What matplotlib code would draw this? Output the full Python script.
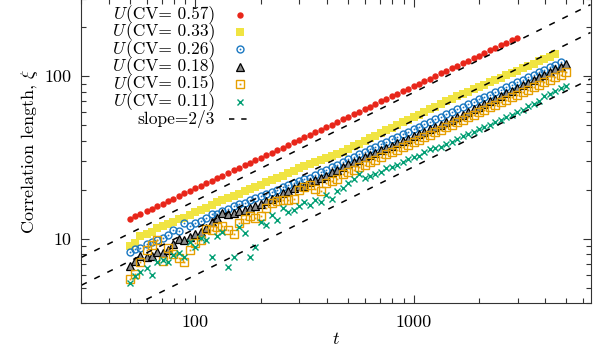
import matplotlib
matplotlib.use('Agg')
import matplotlib.pyplot as plt
from matplotlib.lines import Line2D
from matplotlib.ticker import NullFormatter

# simulation times shared by all runs
t = [50, 53, 56, 60, 63, 67, 71, 75, 79, 84, 89, 94, 100, 106, 112, 119, 126, 133, 141, 150,
     158, 168, 178, 188, 200, 211, 224, 237, 251, 266, 282, 299, 316, 335, 355, 376, 398, 422, 447, 473,
     501, 531, 562, 596, 631, 668, 708, 750, 794, 841, 891, 944, 1000, 1059, 1122, 1189, 1259, 1334, 1413, 1496,
     1585, 1679, 1778, 1884, 1995, 2113, 2239, 2371, 2512, 2661, 2818, 2985, 3162, 3350, 3548, 3758, 3981, 4217, 4467, 4732,
     5012]

# correlation length for each CV value
xi_057 = [13.2, 13.7, 14.2, 14.7, 15.3, 15.8, 16.4, 17.0, 17.6, 18.3,
          19.0, 19.7, 20.4, 21.2, 21.9, 22.7, 23.6, 24.4, 25.4, 26.3,
          27.3, 28.3, 29.3, 30.4, 31.5, 32.7, 33.9, 35.1, 36.4, 37.8,
          39.1, 40.6, 42.1, 43.6, 45.3, 46.9, 48.6, 50.4, 52.3, 54.2,
          56.2, 58.3, 60.5, 62.7, 65.0, 67.4, 69.9, 72.5, 75.1, 77.9,
          80.8, 83.7, 86.8, 90.0, 93.4, 96.8, 100.4, 104.1, 107.9, 111.9,
          116.0, 120.3, 124.7, 129.3, 134.1, 139.0, 144.2, 149.5, 155.0, 160.7,
          166.6, 172.8]
xi_033 = [9.06, 9.45, 10.43, 10.73, 11.04, 11.69, 12.02, 12.36, 12.72, 13.28,
          13.47, 14.05, 14.66, 15.08, 15.51, 16.18, 16.88, 17.37, 17.87, 18.38,
          18.91, 19.73, 20.30, 20.88, 21.48, 22.41, 23.05, 23.71, 24.39, 25.45,
          26.19, 27.32, 28.11, 28.92, 29.75, 30.60, 31.48, 32.38, 33.31, 34.27,
          35.75, 37.04, 38.37, 40.03, 41.47, 42.97, 44.83, 46.44, 48.11, 50.20,
          52.01, 53.88, 55.82, 57.83, 60.34, 62.52, 64.77, 67.58, 70.03, 72.55,
          75.16, 77.86, 80.10, 82.99, 85.97, 88.42, 91.61, 94.90, 97.62, 101.2,
          104.8, 107.8, 111.6, 115.7, 119.0, 123.4, 127.8, 131.5, 136.2]
xi_026 = [8.32, 8.68, 8.81, 9.32, 9.59, 9.86, 10.14, 10.58, 11.36, 11.20,
          12.54, 12.02, 12.54, 12.91, 13.47, 14.25, 14.25, 14.87, 15.29, 15.95,
          16.41, 16.64, 17.37, 17.87, 18.38, 18.91, 19.45, 20.01, 20.88, 21.48,
          22.10, 22.73, 23.38, 23.71, 24.74, 25.81, 26.56, 27.71, 28.51, 29.75,
          30.82, 31.93, 33.07, 34.27, 35.50, 36.78, 38.10, 39.47, 40.89, 42.36,
          43.89, 45.47, 47.10, 48.80, 50.56, 52.38, 54.26, 56.22, 58.24, 60.34,
          62.52, 64.77, 67.10, 69.52, 72.04, 74.11, 76.77, 79.54, 82.40, 85.37,
          88.42, 91.61, 94.90, 98.32, 101.9, 105.6, 109.3, 113.2, 117.4, 121.6]
xi_018 = [6.82, 7.33, 7.86, 7.75, 7.86, 8.32, 8.20, 8.56, 9.32, 10.00,
          9.86, 10.29, 10.73, 11.04, 11.69, 12.72, 13.47, 14.45, 14.25, 14.45,
          14.87, 15.08, 15.51, 15.95, 16.41, 17.13, 17.62, 18.12, 19.18, 19.73,
          20.58, 21.18, 21.18, 22.41, 23.05, 23.71, 24.39, 25.82, 26.56, 27.71,
          28.71, 29.75, 30.60, 31.70, 32.84, 33.78, 35.00, 36.26, 37.30, 38.64,
          40.03, 41.18, 42.66, 44.20, 45.47, 47.10, 48.80, 50.20, 52.01, 53.88,
          55.82, 57.83, 60.34, 62.52, 64.77, 67.58, 70.03, 72.55, 75.69, 78.42,
          81.24, 84.76, 87.80, 90.96, 94.90, 98.32, 101.9, 106.2, 110.1, 114.1,
          118.2]
xi_015 = [5.68, 6.10, 7.22, 8.56, 9.19, 9.86, 7.33, 8.81, 8.08, 7.64,
          7.22, 8.56, 9.45, 9.86, 11.52, 11.36, 11.85, 12.02, 11.36, 10.73,
          12.54, 13.28, 13.85, 13.47, 13.85, 15.51, 16.64, 17.13, 17.37, 17.37,
          17.62, 20.01, 20.88, 21.48, 20.30, 19.73, 22.10, 22.73, 23.38, 25.09,
          25.82, 26.56, 27.71, 28.51, 29.75, 30.60, 31.93, 33.31, 34.27, 35.25,
          36.78, 37.83, 39.47, 40.60, 42.36, 43.58, 45.47, 46.77, 48.80, 50.20,
          52.38, 53.88, 56.22, 57.83, 60.34, 62.08, 64.77, 66.63, 69.52, 71.53,
          74.63, 76.77, 80.10, 82.40, 85.97, 88.42, 92.25, 94.90, 99.06, 101.9,
          106.2]
xi_011 = [5.37, 5.93, 6.27, 6.64, 6.01, 7.22, 7.43, 7.22, 7.97, 8.20,
          7.75, 9.59, 8.93, 10.14, 9.86, 7.75, 10.43, 11.04, 6.73, 7.75,
          11.85, 10.88, 7.75, 8.93, 12.72, 12.19, 14.05, 13.09, 15.51, 14.66,
          15.08, 15.95, 16.88, 16.18, 17.37, 16.88, 18.64, 17.62, 19.73, 20.58,
          22.10, 23.38, 25.09, 23.71, 24.39, 25.09, 25.82, 27.32, 27.71, 28.51,
          29.75, 31.04, 31.93, 32.38, 34.27, 35.75, 36.26, 36.78, 38.37, 39.47,
          41.18, 42.97, 44.20, 45.47, 47.44, 48.80, 50.20, 52.38, 53.88, 56.22,
          57.83, 60.34, 62.08, 65.69, 67.58, 70.53, 75.69, 77.86, 81.24, 84.76,
          87.18]

cv_labels = ['0.57', '0.33', '0.26', '0.18', '0.15', '0.11']

# prefactors of the xi = A t^(2/3) guide lines
guide_A = [0.794, 0.535, 0.277]
guide_t = [30, 6470]

plt.rcParams['font.family'] = 'serif'
plt.rcParams['font.serif'] = ['cmr10']
plt.rcParams['mathtext.fontset'] = 'cm'
plt.rcParams['axes.formatter.use_mathtext'] = True
plt.rcParams['font.size'] = 13

RED = '#e8261a'
YEL = '#f0e442'
BLU = '#1a78c2'
ORG = '#e69f00'
GRN = '#009e73'

W, H = 596, 351
fig = plt.figure(figsize=(W / 100, H / 100), dpi=100)
ax = fig.add_axes([81.3 / W, 47.7 / H, 509.2 / W, 304.6 / H])

# marker styles, one list per series (open markers get gnuplot's centre dot)
styles = [
    [dict(marker='o', ms=4.6, mfc=RED, mec=RED, mew=0)],
    [dict(marker='s', ms=5.2, mfc=YEL, mec=YEL, mew=0)],
    [dict(marker='o', ms=5.0, mfc='none', mec=BLU, mew=1.0),
     dict(marker='o', ms=1.3, mfc=BLU, mec=BLU, mew=0)],
    [dict(marker='^', ms=5.4, mfc='#8c8c8c', mec='black', mew=0.9)],
    [dict(marker='s', ms=5.2, mfc='none', mec=ORG, mew=1.0),
     dict(marker='s', ms=1.3, mfc=ORG, mec=ORG, mew=0)],
    [dict(marker='x', ms=4.8, mec=GRN, mew=1.0)],
]
series = [xi_057, xi_033, xi_026, xi_018, xi_015, xi_011]

for xi, st in zip(series, styles):
    for s in st:
        ax.plot(t[:len(xi)], xi, ls='none', **s)

dash_style = dict(color='black', lw=1.1, dashes=(4, 5.5))
for A in guide_A:
    ax.plot(guide_t, [A * tt ** (2 / 3) for tt in guide_t], **dash_style)

ax.set_xscale('log')
ax.set_yscale('log')
ax.set_xlim(30, 6470)
ax.set_ylim(4, 300)
ax.set_xticks([100, 1000], ['100', '1000'])
ax.set_yticks([10, 100], ['10', '100'])
ax.xaxis.set_minor_formatter(NullFormatter())
ax.yaxis.set_minor_formatter(NullFormatter())
ax.tick_params(which='both', direction='in', top=True, right=True, width=0.8, colors='#333333',
               labelcolor='black')
ax.tick_params(which='major', length=6)
ax.tick_params(which='minor', length=3.5)
ax.tick_params(axis='x', pad=8)
ax.tick_params(axis='y', pad=7)
for s in ax.spines.values():
    s.set_linewidth(0.8)
    s.set_color('#333333')

ax.set_xlabel(r'$t$', labelpad=1)
ax.set_ylabel(r'Correlation length, $\xi$', labelpad=3)

# key drawn by hand, gnuplot style: right-justified text, sample on the right
key_fs = 12.5
text_right = 215
mark_x = 240
row_y = [14.5 + 17.45 * i for i in range(7)]


def fx(px):
    return px / W


def fy(py):
    return 1 - py / H


key_texts = []
for i, c in enumerate(cv_labels):
    base = fy(row_y[i] + 4.3)
    tx = fig.text(fx(text_right), base, '(CV= %s)' % c, ha='right', va='baseline',
                  fontsize=key_fs, family='cmr10')
    key_texts.append((tx, base))
    for s in styles[i]:
        fig.add_artist(Line2D([fx(mark_x)], [fy(row_y[i])], ls='none',
                              transform=fig.transFigure, **s))

fig.text(fx(text_right), fy(row_y[6] + 4.3), 'slope=2/3', ha='right', va='baseline',
         fontsize=key_fs, family='cmr10')
fig.add_artist(Line2D([fx(229), fx(251)], [fy(row_y[6]), fy(row_y[6])],
                      transform=fig.transFigure, color='black', lw=1.1, dashes=(3.5, 4.5)))

# italic U in front of each key text
fig.canvas.draw()
rend = fig.canvas.get_renderer()
for tx, base in key_texts:
    bb = tx.get_window_extent(rend)
    fig.text(bb.x0 / W - 0.5 / W, base, 'U', ha='right', va='baseline',
             fontsize=key_fs, family='cmmi10')

fig.savefig('out.png', dpi=100)
